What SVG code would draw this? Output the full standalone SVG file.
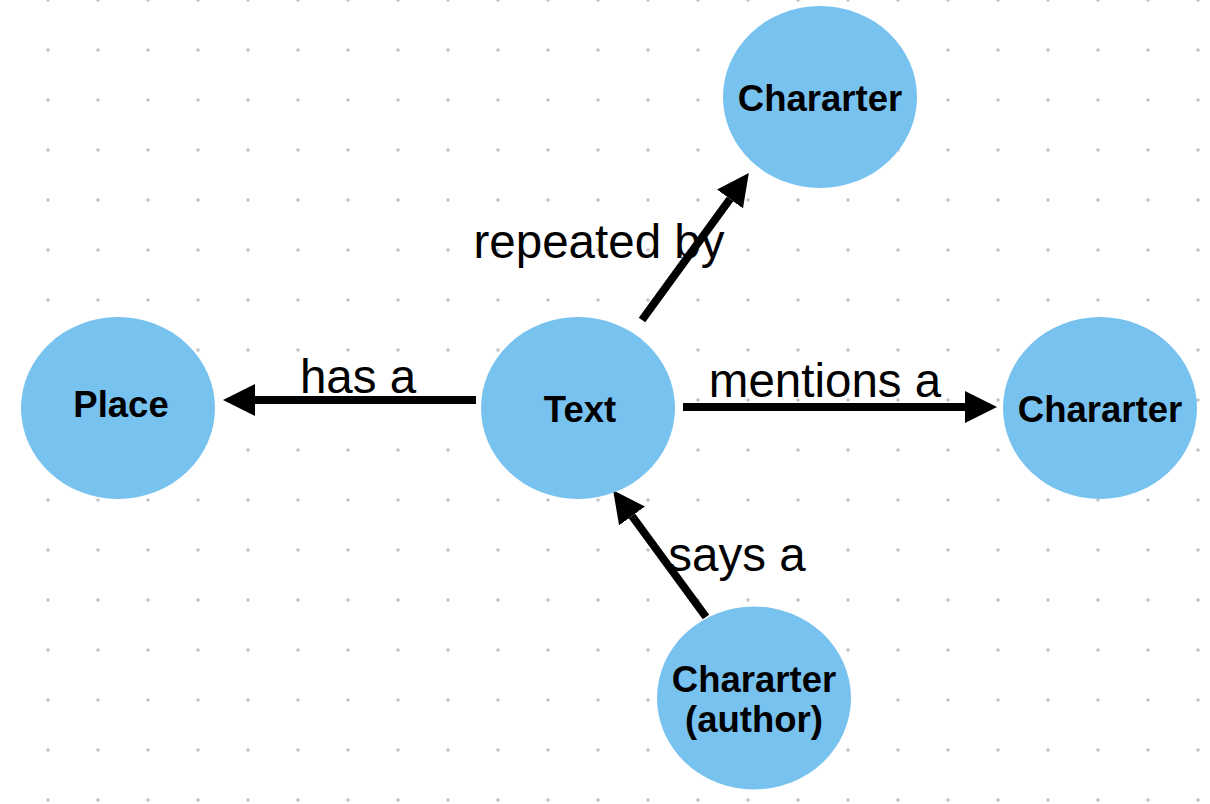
<svg xmlns="http://www.w3.org/2000/svg" width="1210" height="804" viewBox="0 0 1210 804">
<style>
.node{fill:#78c2f0}
.nl{font-family:"Liberation Sans",Arial,sans-serif;font-weight:bold;font-size:36.5px;fill:#000;text-anchor:middle}
.el{font-family:"Liberation Sans",Arial,sans-serif;font-size:47.5px;fill:#000;text-anchor:middle}
.edge{stroke:#000;stroke-width:8;fill:none;marker-end:url(#ah)}
</style>
<defs>
<pattern id="dots" patternUnits="userSpaceOnUse" x="23" y="-25" width="50" height="50">
<circle cx="25" cy="25" r="1.8" fill="#c4c4c4"/>
</pattern>
<marker id="ah" markerUnits="userSpaceOnUse" markerWidth="34" markerHeight="34" refX="0" refY="16" orient="auto">
<path d="M0,0 L32,16 L0,32 z" fill="#000"/>
</marker>
</defs>
<rect width="1210" height="804" fill="#fff"/>
<rect width="1210" height="804" fill="url(#dots)"/>
<g id="connectors">
<line class="edge" x1="476" y1="400" x2="255" y2="400"/>
<line class="edge" x1="683" y1="407" x2="965" y2="407"/>
<line class="edge" x1="642" y1="320" x2="730" y2="199"/>
<line class="edge" x1="706" y1="617" x2="632" y2="516"/>
<text class="el" x="599" y="258">repeated by</text>
<text class="el" x="358" y="393">has a</text>
<text class="el" x="825" y="397">mentions a</text>
<text class="el" x="737" y="571">says a</text>
</g>
<g id="node-top">
<ellipse class="node" cx="820" cy="97" rx="97" ry="91"/>
<text class="nl" x="820" y="111">Chararter</text>
</g>
<g id="node-place">
<ellipse class="node" cx="118" cy="408" rx="97" ry="91"/>
<text class="nl" x="121" y="417">Place</text>
</g>
<g id="node-text">
<ellipse class="node" cx="578" cy="408" rx="97" ry="91"/>
<text class="nl" x="580" y="422">Text</text>
</g>
<g id="node-right">
<ellipse class="node" cx="1100" cy="408" rx="97" ry="91"/>
<text class="nl" x="1100" y="422">Chararter</text>
</g>
<g id="node-author">
<ellipse class="node" cx="754" cy="698" rx="97" ry="91.5"/>
<text class="nl" x="754" y="692">Chararter</text>
<text class="nl" x="754" y="732">(author)</text>
</g>
</svg>
